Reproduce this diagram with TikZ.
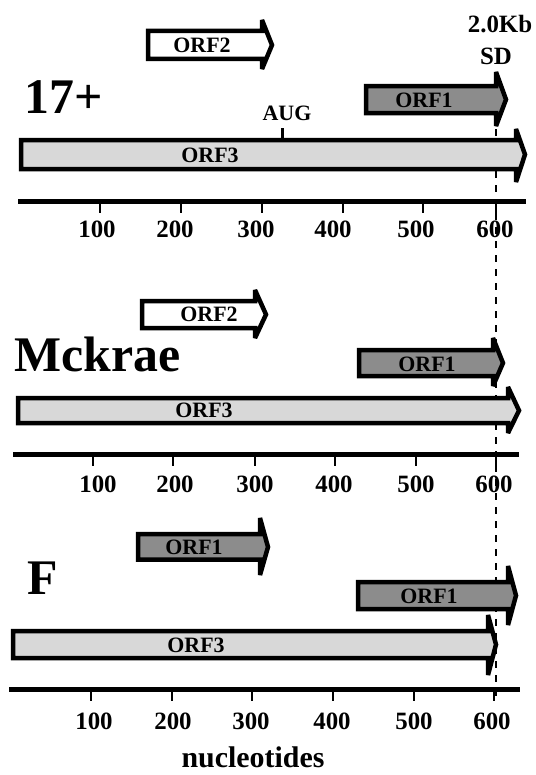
\documentclass[tikz,border=0pt]{standalone}
\usepackage{fontspec}
\setmainfont{Liberation Serif}

\definecolor{orfdark}{RGB}{140,140,140}
\definecolor{orflight}{RGB}{216,216,216}

\begin{document}
\begin{tikzpicture}[x=1bp, y=-1bp,
    orf/.style={draw=black, line width=4.5bp, miter limit=3},
    orfone/.style={orf, fill=orfdark},
    orftwo/.style={orf, fill=white},
    orfthree/.style={orf, fill=orflight},
    orflab/.style={font=\fontsize{22}{22}\selectfont\bfseries, inner sep=0pt},
    strain/.style={font=\fontsize{50}{50}\selectfont\bfseries, inner sep=0pt, anchor=base west},
    axisline/.style={line width=5bp},
    tickmark/.style={line width=1.5bp},
    ticklab/.style={font=\fontsize{25}{25}\selectfont\bfseries, inner sep=0pt, anchor=base},
    sdline/.style={line width=2.2bp, dash pattern=on 7bp off 7bp}]
    \useasboundingbox (0,0) rectangle (536,775);

    % SD position, dashed through all three strains
    \coordinate (sdtop) at (496,129);
    \coordinate (sdbot) at (496,697);
    \draw[sdline] (sdtop) -- (sdbot);

    % ---- strain 17+ ----
    \draw[orftwo] (148,31) -- (262,31) -- (262,20) -- (272,45) -- (262,69) -- (262,59) -- (148,59) -- cycle;
    \draw[orfone] (366,86) -- (496,86) -- (496,72) -- (506,99.5) -- (496,126) -- (496,113) -- (366,113) -- cycle;
    \draw[orfthree] (21,140) -- (516,140) -- (516,129) -- (525,154.5) -- (516,182) -- (516,169) -- (21,169) -- cycle;
    \node[orflab] (orftwoa) at (202,45) {ORF2};
    \node[orflab] (orfonea) at (424,100) {ORF1};
    \node[orflab] (orfthreea) at (210,155) {ORF3};
    \node[strain] (s17) at (24,113) {17+};

    % AUG mark
    \node[orflab] (aug) at (287,113) {AUG};
    \draw[line width=3bp] (282,128) -- (282,140);

    % splice donor
    \node[font=\fontsize{25}{25}\selectfont\bfseries, inner sep=0pt, anchor=base] (kb) at (500,33) {2.0Kb};
    \node[font=\fontsize{25}{25}\selectfont\bfseries, inner sep=0pt, anchor=base] (sd) at (496,65) {SD};

    % axis
    \draw[axisline] (18,201) -- (526,201);
    \foreach \x in {100,181,262,343,423,496}
        \draw[tickmark] (\x,201) -- (\x,213);
    \foreach \x/\t in {97/100,175/200,256/300,333/400,416/500,495/600}
        \node[ticklab] (ta\t) at (\x,237) {\t};

    % ---- strain Mckrae ----
    \draw[orftwo] (142,301) -- (255,301) -- (255,290) -- (266,314.5) -- (255,338) -- (255,328) -- (142,328) -- cycle;
    \draw[orfone] (359,350) -- (493,350) -- (493,338) -- (503,363) -- (493,386) -- (493,376) -- (359,376) -- cycle;
    \draw[orfthree] (18,398) -- (508,398) -- (508,387) -- (519,410.5) -- (508,433) -- (508,423) -- (18,423) -- cycle;
    \node[orflab] (orftwob) at (209,314) {ORF2};
    \node[orflab] (orfoneb) at (427,364) {ORF1};
    \node[orflab] (orfthreeb) at (204,410) {ORF3};
    \node[strain] (smck) at (14,371) {Mckrae};

    % axis
    \draw[axisline] (13,454) -- (519,454);
    \foreach \x in {93,173,255,335,416,496}
        \draw[tickmark] (\x,454) -- (\x,466);
    \foreach \x/\t in {98/100,175/200,255/300,334/400,416/500,494/600}
        \node[ticklab] (tb\t) at (\x,492) {\t};

    % ---- strain F ----
    \draw[orfone] (138,534) -- (260,534) -- (260,518) -- (268,547) -- (260,575) -- (260,559.5) -- (138,559.5) -- cycle;
    \draw[orfone] (358,582) -- (508,582) -- (508,566) -- (516,595.5) -- (508,625) -- (508,609) -- (358,609) -- cycle;
    \draw[orfthree] (13,631) -- (488,631) -- (488,615) -- (496,644.5) -- (488,675) -- (488,658) -- (13,658) -- cycle;
    \node[orflab] (orfonec) at (194,547) {ORF1};
    \node[orflab] (orfoned) at (429,596) {ORF1};
    \node[orflab] (orfthreec) at (196,645) {ORF3};
    \node[strain] (sf) at (27,594) {F};

    % axis
    \draw[axisline] (9,689) -- (520,689);
    \foreach \x in {91,172,252,333,414,494}
        \draw[tickmark] (\x,689) -- (\x,701);
    \foreach \x/\t in {94/100,173/200,251/300,332/400,414/500,492/600}
        \node[ticklab] (tc\t) at (\x,729) {\t};

    \node[font=\fontsize{30}{30}\selectfont\bfseries, inner sep=0pt, anchor=base] (nuc) at (253,767) {nucleotides};
\end{tikzpicture}
\end{document}
